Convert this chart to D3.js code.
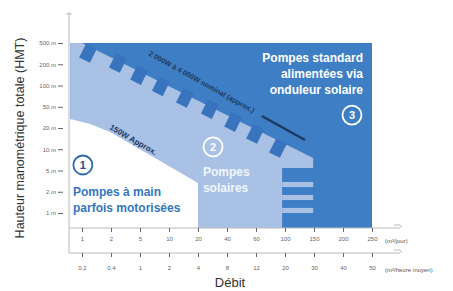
<!DOCTYPE html>
<html>
<head>
<meta charset="utf-8">
<script src="https://cdn.jsdelivr.net/npm/d3@7"></script>
<style>
  body { margin: 0; background: #fff; }
  svg { font-family: "Liberation Sans", Arial, sans-serif; display: block; }
  .tick text { font-size: 6px; }
</style>
</head>
<body>
<div id="chart"></div>
<script>
const width = 453;
const height = 291;

// tick labels
const headLabels = ['1 m', '2 m', '5 m', '10 m', '20 m', '50 m', '100 m', '200 m', '500 m'];
const flowDay = ['1', '2', '5', '10', '20', '40', '60', '100', '150', '200', '250'];
const flowHour = ['0,2', '0,4', '1', '2', '4', '8', '12', '20', '30', '40', '50'];

// zones, in tick-index units (x: flow tick, y: head tick)
const zoneStandard = [[-0.41, -0.7], [10, -0.7], [10, 8], [-0.41, 8]];
const zoneSolar = [[-0.41, 8], [0, 8], [7.97, 2.59], [7.97, 2.12], [6.9, 2.12], [6.9, -0.7], [-0.41, -0.7]];
const solarStripsY = [[1.22, 1.46], [0.61, 0.85], [0, 0.24]];
const zoneHand = [[-0.41, 4.42], [0.28, 4.19], [0.97, 3.81], [2.34, 2.73], [4, 1.41], [4, -0.7], [-0.41, -0.7]];
const teethX = [0.21, 1.24, 1.97, 2.72, 3.55, 4.41, 5.21, 5.97, 6.76];
const teethY = [7.53, 7.06, 6.49, 5.96, 5.41, 4.89, 4.28, 3.72, 3.06];

const svg = d3.select('#chart')
  .append('svg')
  .attr('width', width)
  .attr('height', height);

const x = d3.scaleLinear().domain([0, 10]).range([82, 372]);
const y = d3.scaleLinear().domain([0, 8]).range([213, 43]);

const area = d3.line().x(d => x(d[0])).y(d => y(d[1]));

// zones
svg.append('path').attr('d', area(zoneStandard) + 'Z').attr('fill', '#3e7ec5');
svg.append('path').attr('d', area(zoneSolar) + 'Z').attr('fill', '#a9c1e5');
svg.selectAll('.strip').data(solarStripsY)
  .enter().append('rect')
  .attr('class', 'strip')
  .attr('x', x(6.9))
  .attr('width', x(7.97) - x(6.9))
  .attr('y', d => y(d[1]))
  .attr('height', d => y(d[0]) - y(d[1]))
  .attr('fill', '#a9c1e5');

const tilt = Math.atan2(y(2.59) - y(8), x(7.97) - x(0)) * 180 / Math.PI;
svg.selectAll('.tooth').data(teethX)
  .enter().append('rect')
  .attr('class', 'tooth')
  .attr('x', -6).attr('y', -8)
  .attr('width', 12).attr('height', 16)
  .attr('fill', '#3874bd')
  .attr('transform', (d, i) => `translate(${x(d)},${y(teethY[i])}) rotate(${tilt})`);

svg.append('path').attr('d', area(zoneHand) + 'Z').attr('fill', '#fff');

// power lines
const p0 = [2.28, 7.43];
const p1 = [6.2, 4.47];
const p2 = [7.69, 3.34];
const ang = Math.atan2(y(p2[1]) - y(p0[1]), x(p2[0]) - x(p0[0])) * 180 / Math.PI;
svg.append('text')
  .attr('transform', `translate(${x(p0[0])},${y(p0[1])}) rotate(${ang})`)
  .attr('font-size', 7.2).attr('font-weight', 'bold').attr('fill', '#1e3a60')
  .text('2 000W à 4 000W nominal (approx.)');
svg.append('line')
  .attr('x1', x(p1[0])).attr('y1', y(p1[1]) - 2)
  .attr('x2', x(p2[0])).attr('y2', y(p2[1]) - 2)
  .attr('stroke', '#1e3a60').attr('stroke-width', 2.5);

const hAng = Math.atan2(y(2.73) - y(3.81), x(2.34) - x(0.97)) * 180 / Math.PI;
svg.append('text')
  .attr('transform', `translate(${x(0.93)},${y(3.96)}) rotate(${hAng})`)
  .attr('font-size', 8).attr('font-weight', 'bold').attr('fill', '#1e3a60')
  .text('150W Approx.');

// zone labels
function badge(cx, cy, n, stroke, fill, txt) {
  svg.append('circle').attr('cx', x(cx)).attr('cy', y(cy)).attr('r', 9.5)
    .attr('fill', fill).attr('stroke', stroke).attr('stroke-width', 1.8);
  svg.append('text').attr('x', x(cx)).attr('y', y(cy) + 4)
    .attr('text-anchor', 'middle').attr('font-size', 11).attr('font-weight', 'bold')
    .attr('fill', txt).text(n);
}
badge(0.03, 2.26, '1', '#2f6aa8', '#fff', '#1f4f86');
badge(4.52, 3.11, '2', '#fff', 'none', '#fff');
badge(9.31, 4.61, '3', '#fff', 'none', '#fff');

function label(lines, lx, ly, anchor, color) {
  const t = svg.append('text')
    .attr('x', x(lx)).attr('y', y(ly))
    .attr('text-anchor', anchor)
    .attr('font-size', 12).attr('font-weight', 'bold').attr('fill', color);
  lines.forEach((s, i) => {
    t.append('tspan').attr('x', x(lx)).attr('dy', i ? 16 : 0).text(s);
  });
}
label(['Pompes standard', 'alimentées via', 'onduleur solaire'], 9.69, 7.11, 'end', '#fff');
label(['Pompes', 'solaires'], 4.17, 1.74, 'start', '#f2f6fc');
label(['Pompes à main', 'parfois motorisées'], -0.31, 0.8, 'start', '#3577bf');

// axes
svg.append('line').attr('x1', 69).attr('x2', 69).attr('y1', 12).attr('y2', 253)
  .attr('stroke', '#bbb');
svg.append('line').attr('x1', 66).attr('x2', 72).attr('y1', 14).attr('y2', 14)
  .attr('stroke', '#bbb');

const yAxis = d3.axisLeft(y).tickValues(d3.range(9)).tickFormat(i => headLabels[i])
  .tickSize(5).tickPadding(2);
svg.append('g').attr('transform', 'translate(63,0)').attr('color', '#666').call(yAxis)
  .call(g => g.select('.domain').remove());

[228, 253].forEach(ly => {
  svg.append('line').attr('x1', 69).attr('x2', 400).attr('y1', ly).attr('y2', ly)
    .attr('stroke', '#bbb');
  svg.append('path').attr('d', `M394,${ly - 3}L400,${ly - 3}L402,${ly}`)
    .attr('fill', 'none').attr('stroke', '#bbb');
});

const xAxisDay = d3.axisBottom(x).tickValues(d3.range(11)).tickFormat(i => flowDay[i])
  .tickSize(4).tickPadding(5);
svg.append('g').attr('transform', 'translate(0,228)').attr('color', '#666').call(xAxisDay)
  .call(g => g.select('.domain').remove());

const xAxisHour = d3.axisBottom(x).tickValues(d3.range(11)).tickFormat(i => flowHour[i])
  .tickSize(4).tickPadding(9);
svg.append('g').attr('transform', 'translate(0,253)').attr('color', '#666').call(xAxisHour)
  .call(g => g.select('.domain').remove());

svg.append('text').attr('x', 385).attr('y', 243).attr('font-size', 6).attr('fill', '#555')
  .text('(m³/jour)');
svg.append('text').attr('x', 385).attr('y', 272).attr('font-size', 6).attr('fill', '#555')
  .text('(m³/heure moyen)');

svg.append('text').attr('x', 230).attr('y', 287).attr('text-anchor', 'middle')
  .attr('font-size', 13).attr('fill', '#333').text('Débit');

svg.append('text')
  .attr('transform', 'translate(24,138) rotate(-90)')
  .attr('text-anchor', 'middle').attr('font-size', 12.5).attr('fill', '#333')
  .text('Hauteur manométrique totale (HMT)');
</script>
</body>
</html>
